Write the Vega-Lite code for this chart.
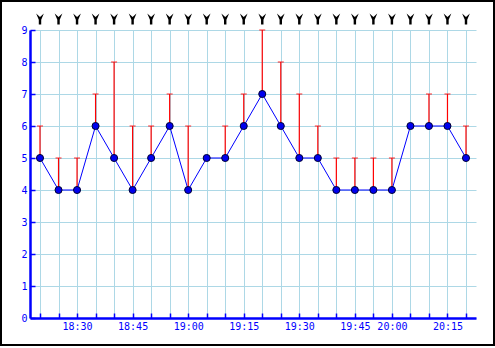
{
  "$schema": "https://vega.github.io/schema/vega-lite/v6.json",
  "width": 446,
  "height": 288,
  "autosize": "none",
  "padding": {"left": 30, "top": 30, "right": 19, "bottom": 30},
  "background": "white",
  "config": {
    "view": {"stroke": null},
    "font": "DejaVu Sans Mono",
    "axisY": {
      "title": null,
      "labelOverlap": false,
      "grid": true,
      "gridColor": "#add8e6",
      "gridWidth": 1,
      "domainColor": "#0000ff",
      "domainWidth": 2.5,
      "tickColor": "#0000ff",
      "tickSize": -5,
      "tickWidth": 1.5,
      "labelColor": "#0000ff",
      "labelFontSize": 10,
      "labelPadding": 8
    }
  },
  "data": {
    "values": [
      {"time": "18:20", "val": 5, "gust": 6},
      {"time": "18:25", "val": 4, "gust": 5},
      {"time": "18:30", "val": 4, "gust": 5},
      {"time": "18:35", "val": 6, "gust": 7},
      {"time": "18:40", "val": 5, "gust": 8},
      {"time": "18:45", "val": 4, "gust": 6},
      {"time": "18:50", "val": 5, "gust": 6},
      {"time": "18:55", "val": 6, "gust": 7},
      {"time": "19:00", "val": 4, "gust": 6},
      {"time": "19:05", "val": 5, "gust": 5},
      {"time": "19:10", "val": 5, "gust": 6},
      {"time": "19:15", "val": 6, "gust": 7},
      {"time": "19:20", "val": 7, "gust": 9},
      {"time": "19:25", "val": 6, "gust": 8},
      {"time": "19:30", "val": 5, "gust": 7},
      {"time": "19:35", "val": 5, "gust": 6},
      {"time": "19:40", "val": 4, "gust": 5},
      {"time": "19:45", "val": 4, "gust": 5},
      {"time": "19:50", "val": 4, "gust": 5},
      {"time": "20:00", "val": 4, "gust": 5},
      {"time": "20:05", "val": 6, "gust": 6},
      {"time": "20:10", "val": 6, "gust": 7},
      {"time": "20:15", "val": 6, "gust": 7},
      {"time": "20:20", "val": 5, "gust": 6}
    ]
  },
  "encoding": {
    "x": {
      "field": "time",
      "type": "ordinal",
      "sort": null,
      "scale": {
        "type": "point",
        "padding": 0.54,
        "domain": ["18:20", "18:25", "18:30", "18:35", "18:40", "18:45", "18:50", "18:55", "19:00", "19:05", "19:10", "19:15", "19:20", "19:25", "19:30", "19:35", "19:40", "19:45", "19:50", "20:00", "20:05", "20:10", "20:15", "20:20"]
      },
      "axis": {
        "title": null,
        "labelExpr": "indexof(['18:30','18:45','19:00','19:15','19:30','19:45','20:00','20:15'], datum.value) >= 0 ? datum.value : ''",
        "labelAngle": 0,
        "labelOverlap": false,
        "grid": true,
        "gridColor": "#add8e6",
        "gridWidth": 1,
        "domainColor": "#0000ff",
        "domainWidth": 2.5,
        "tickColor": "#0000ff",
        "tickSize": -5,
        "tickWidth": 1.5,
        "labelColor": "#0000ff",
        "labelFontSize": 10,
        "labelPadding": 8
      }
    },
    "y": {
      "field": "val",
      "type": "quantitative",
      "scale": {"domain": [0, 9], "nice": false},
      "axis": {"values": [0, 1, 2, 3, 4, 5, 6, 7, 8, 9]}
    }
  },
  "layer": [
    {
      "transform": [{"filter": "datum.gust > datum.val"}],
      "mark": {"type": "rule", "color": "#ff0000", "strokeWidth": 1.2},
      "encoding": {"y2": {"field": "gust"}}
    },
    {
      "transform": [{"filter": "datum.gust > datum.val"}],
      "mark": {"type": "tick", "color": "#ff0000", "thickness": 1.2, "size": 6, "orient": "horizontal"},
      "encoding": {
        "y": {
          "field": "gust",
          "type": "quantitative",
          "scale": {"domain": [0, 9], "nice": false},
          "axis": {"values": [0, 1, 2, 3, 4, 5, 6, 7, 8, 9]}
        }
      }
    },
    {
      "mark": {"type": "line", "color": "#0000ff", "strokeWidth": 1}
    },
    {
      "mark": {"type": "circle", "size": 50, "color": "#0000ee", "stroke": "#000033", "strokeWidth": 1, "opacity": 1}
    },
    {
      "mark": {
        "type": "point",
        "filled": true,
        "color": "#000000",
        "opacity": 1,
        "size": 121,
        "shape": "M-0.7,-1 L0,-0.35 L0.7,-1 L0.22,0.15 L0.22,1 L-0.22,1 L-0.22,0.15 Z",
        "yOffset": -11
      },
      "encoding": {
        "y": {
          "datum": 9,
          "type": "quantitative",
          "scale": {"domain": [0, 9], "nice": false},
          "axis": {"values": [0, 1, 2, 3, 4, 5, 6, 7, 8, 9]}
        }
      }
    },
    {
      "data": {"values": [{"frame": 1}]},
      "mark": {"type": "rect", "fill": null, "fillOpacity": 0, "stroke": "#000000", "strokeWidth": 2},
      "encoding": {
        "x": {"value": -29},
        "x2": {"value": 464},
        "y": {"value": -29},
        "y2": {"value": 315}
      }
    }
  ]
}
